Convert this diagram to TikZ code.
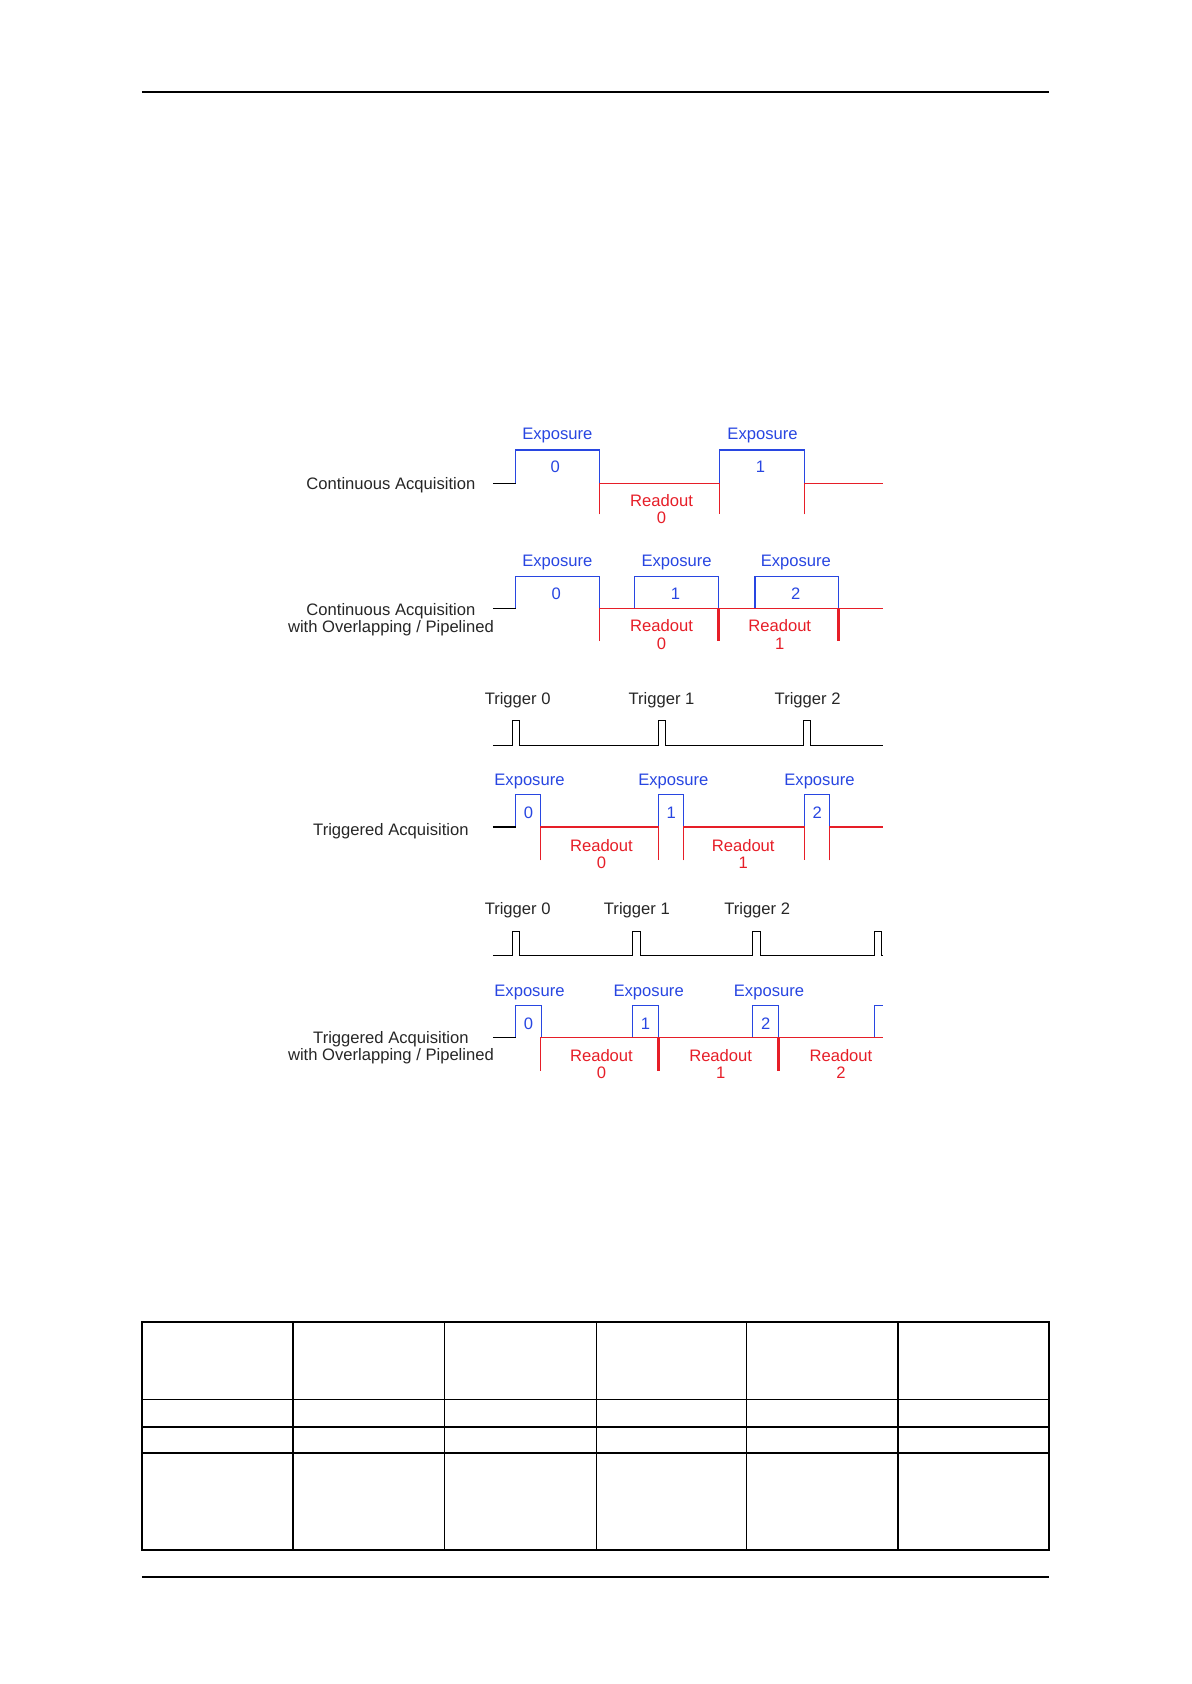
\documentclass[tikz,border=0pt]{standalone}
\usepackage{fontspec}
\setmainfont{Liberation Sans}
\usepackage{tikz}
\definecolor{expblue}{RGB}{40,70,225}
\definecolor{rdred}{RGB}{230,30,40}

\begin{document}
\begin{tikzpicture}[x=0.5368pt,y=-0.5368pt,
  txt/.style={font=\fontsize{8.3}{8.6}\selectfont,inner sep=0pt,align=center,text=black!85,yshift=-1pt},
  exptxt/.style={txt,text=expblue},
  rdtxt/.style={txt,text=rdred},
  sig/.style={black,line width=0.55pt},
  expline/.style={expblue,line width=0.55pt},
  rdline/.style={rdred,line width=0.55pt},
  rdthick/.style={rdred,line width=1.4pt},
  rule/.style={black,line width=0.9pt}]
  \useasboundingbox (0,0) rectangle (1109,1568);

  \draw[rule] (132,86) -- (977,86);
  \draw[rule] (132,1468) -- (977,1468);

  \node[txt] (cont) at (364,450) {Continuous Acquisition};
  \node[exptxt] (ce0) at (519,404) {Exposure};
  \node[exptxt] (ce1) at (710,404) {Exposure};
  \node[exptxt] (cn0) at (517,433) {0};
  \node[exptxt] (cn1) at (708,433) {1};
  \node[rdtxt] (cr0) at (616,472) {Readout\\0};
  \draw[sig] (459,450) -- (480,450);
  \draw[expline] (480,450) |- (558,419) -- (558,450);
  \draw[expline] (670,450) |- (749,419) -- (749,450);
  \draw[rdline] (558,479) -- (558,450) -- (670,450) -- (670,479);
  \draw[rdline] (749,479) -- (749,450) -- (822,450);

  \node[txt] (contpipe) at (364,575) {Continuous Acquisition\\with Overlapping / Pipelined};
  \foreach \x/\n/\e in {480/0/519,591/1/630,703/2/741} {
    \node[exptxt] (pe\n) at (\e,522) {Exposure};
    \node[exptxt] (pn\n) at (\x+38,551) {\n};
    \draw[expline] (\x,567) |- (\x+78,537) -- (\x+78,567);
  }
  \node[rdtxt] (pr0) at (616,589) {Readout\\0};
  \node[rdtxt] (pr1) at (726,589) {Readout\\1};
  \draw[sig] (459,567) -- (480,567);
  \draw[rdline] (558,597) -- (558,567) -- (822,567);
  \draw[rdthick] (669,567) -- (669,597);
  \draw[rdthick] (781,567) -- (781,597);

  \node[txt] (tt0) at (482,650) {Trigger 0};
  \node[txt] (tt1) at (616,650) {Trigger 1};
  \node[txt] (tt2) at (752,650) {Trigger 2};
  \draw[sig] (459,694) foreach \p in {477,613,748} {-- (\p,694) -- (\p,671) -- (\p+7,671) -- (\p+7,694)} -- (822,694);

  \node[txt] (trig) at (364,772) {Triggered Acquisition};
  \foreach \x/\n/\e in {480/0/493,613/1/627,749/2/763} {
    \node[exptxt] (te\n) at (\e,726) {Exposure};
    \node[exptxt] (tn\n) at (\x+12,755) {\n};
    \draw[expline] (\x,770) |- (\x+23,740) -- (\x+23,770);
  }
  \node[rdtxt] (tr0) at (560,793) {Readout\\0};
  \node[rdtxt] (tr1) at (692,793) {Readout\\1};
  \draw[sig] (459,770) -- (480,770);
  \draw[rdline] (503,801) -- (503,770) -- (613,770) -- (613,801);
  \draw[rdline] (636,801) -- (636,770) -- (749,770) -- (749,801);
  \draw[rdline] (772,801) -- (772,770) -- (822,770);

  \node[txt] (qt0) at (482,846) {Trigger 0};
  \node[txt] (qt1) at (593,846) {Trigger 1};
  \node[txt] (qt2) at (705,846) {Trigger 2};
  \draw[sig] (459,890) foreach \p in {477,589,701,814} {-- (\p,890) -- (\p,867) -- (\p+7,867) -- (\p+7,890)} -- (822,890);

  \node[txt] (trigpipe) at (364,974) {Triggered Acquisition\\with Overlapping / Pipelined};
  \foreach \x/\n/\e in {480/0/493,589/1/604,701/2/716} {
    \node[exptxt] (qe\n) at (\e,922) {Exposure};
    \node[exptxt] (qn\n) at (\x+12,951) {\n};
    \draw[expline] (\x,966) |- (\x+24,936) -- (\x+24,966);
  }
  \draw[expline] (814,966) |- (822,936);
  \node[rdtxt] (qr0) at (560,989) {Readout\\0};
  \node[rdtxt] (qr1) at (671,989) {Readout\\1};
  \node[rdtxt] (qr2) at (783,989) {Readout\\2};
  \draw[sig] (459,966) -- (480,966);
  \draw[rdline] (503,997) -- (503,966) -- (822,966);
  \draw[rdthick] (613,966) -- (613,997);
  \draw[rdthick] (725,966) -- (725,997);

  \draw[rule] (132,1231) rectangle (977,1443);
  \foreach \y in {1303,1329,1353} \draw[rule] (132,\y) -- (977,\y);
  \foreach \x in {273,836} \draw[rule] (\x,1231) -- (\x,1443);
  \foreach \x in {414,555,695} \draw[black,line width=0.5pt] (\x,1231) -- (\x,1443);
\end{tikzpicture}
\end{document}
